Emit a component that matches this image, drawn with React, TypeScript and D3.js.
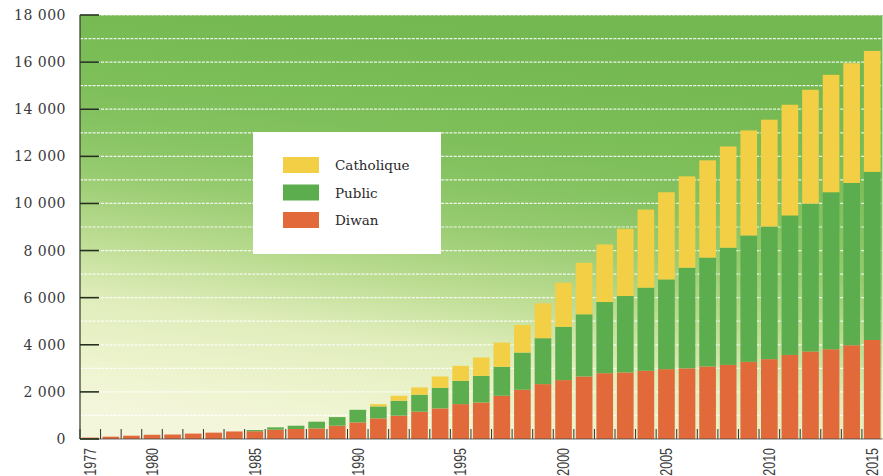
import React from "react";
import * as d3 from "d3";

const years = [
  1977, 1978, 1979, 1980, 1981, 1982, 1983, 1984, 1985, 1986, 1987, 1988, 1989,
  1990, 1991, 1992, 1993, 1994, 1995, 1996, 1997, 1998, 1999, 2000, 2001, 2002,
  2003, 2004, 2005, 2006, 2007, 2008, 2009, 2010, 2011, 2012, 2013, 2014, 2015,
];
const diwan = [
  60, 100, 140, 180, 190, 230, 270, 320, 330, 395, 425, 450, 565, 705, 875, 990,
  1160, 1300, 1480, 1550, 1835, 2090, 2330, 2500, 2655, 2795, 2825, 2895, 2965,
  3000, 3080, 3145, 3275, 3390, 3570, 3715, 3810, 3980, 4205,
];
const publicSchool = [
  0, 0, 0, 0, 0, 0, 0, 0, 50, 100, 140, 285, 365, 535, 510, 635, 720, 875, 990,
  1130, 1230, 1580, 1950, 2260, 2640, 3020, 3245, 3530, 3810, 4270, 4620, 4975,
  5365, 5630, 5920, 6280, 6665, 6890, 7135,
];
const catholique = [
  0, 0, 0, 0, 0, 0, 0, 0, 0, 0, 0, 0, 0, 0, 95, 210, 310, 480, 635, 780, 1030,
  1170, 1480, 1875, 2185, 2445, 2855, 3315, 3700, 3880, 4130, 4300, 4460, 4535,
  4700, 4830, 4985, 5085, 5135,
];
const seriesKeys = ["Diwan", "Public", "Catholique"];
const legendItems = ["Catholique", "Public", "Diwan"];
const yTicks = [0, 2000, 4000, 6000, 8000, 10000, 12000, 14000, 16000, 18000];
const yearLabels = [1977, 1980, 1985, 1990, 1995, 2000, 2005, 2010, 2015];

const colors: Record<string, string> = {
  Diwan: "#e26a3a",
  Public: "#5cad4d",
  Catholique: "#f2cf45",
};

const W = 883;
const H = 476;
const left = 80;
const right = 882.5;
const top = 15;
const bottom = 439;

export default function App() {
  const rows = years.map((y, i) => ({
    year: y,
    Diwan: diwan[i],
    Public: publicSchool[i],
    Catholique: catholique[i],
  }));
  const stack = d3.stack<any>().keys(seriesKeys);
  const layers = stack(rows);

  const x = d3
    .scaleBand<number>()
    .domain(years)
    .range([left, right])
    .paddingInner(0.19)
    .paddingOuter(0.095);
  const y = d3.scaleLinear().domain([0, 18000]).range([bottom, top]);
  const fmt = (v: number) =>
    v === 0 ? "0" : d3.format(",")(v).replace(",", " ");

  const gridVals = d3.range(1000, 18001, 1000);
  const step = x.step();
  const boundaries = years.map((yr) => (x(yr) as number) - (step - x.bandwidth()) / 2);

  return (
    <svg width={W} height={H} style={{ display: "block", position: "absolute", left: 0, top: 0 }}>
      <defs>
        <linearGradient id="bg" gradientUnits="userSpaceOnUse" x1={300} y1={bottom} x2={360} y2={top}>
          <stop offset="0" stopColor="#f4f6dc" />
          <stop offset="0.1" stopColor="#eef4cf" />
          <stop offset="0.26" stopColor="#e0edbb" />
          <stop offset="0.41" stopColor="#b9db8f" />
          <stop offset="0.55" stopColor="#97cb70" />
          <stop offset="0.66" stopColor="#86c362" />
          <stop offset="0.8" stopColor="#7bbd57" />
          <stop offset="1" stopColor="#74b851" />
        </linearGradient>
      </defs>
      <rect x={0} y={0} width={W} height={H} fill="#ffffff" />
      <rect x={left} y={top} width={right - left} height={bottom - top} fill="url(#bg)" />
      {gridVals.map((v) => (
        <line
          key={v}
          x1={left}
          x2={right}
          y1={y(v)}
          y2={y(v)}
          stroke="#ffffff"
          strokeOpacity={0.85}
          strokeWidth={1.2}
          strokeDasharray="3,1.2"
        />
      ))}
      {layers.map((layer) => (
        <g key={layer.key} fill={colors[layer.key]}>
          {layer.map((d, i) => {
            const h = y(d[0]) - y(d[1]);
            if (h <= 0) return null;
            return (
              <rect
                key={i}
                x={x(years[i])}
                y={y(d[1])}
                width={x.bandwidth()}
                height={h}
              />
            );
          })}
        </g>
      ))}
      <line x1={left} x2={right} y1={bottom} y2={bottom} stroke="#444" strokeWidth={0.8} />
      {boundaries.map((bx, i) => (
        <line key={i} x1={bx} x2={bx} y1={bottom - 10} y2={bottom} stroke="#333" strokeWidth={1} />
      ))}
      <line x1={left} x2={left} y1={top} y2={bottom} stroke="#2e3a22" strokeWidth={1.2} />
      {yTicks.map((v) => (
        <g key={v}>
          <line x1={left} x2={left + 19} y1={y(v)} y2={y(v)} stroke="#24301c" strokeWidth={1.6} />
          <text
            x={66}
            y={y(v) + 5}
            textAnchor="end"
            fontFamily="'DejaVu Serif', serif"
            fontSize={14}
            letterSpacing={0.5}
            fill="#3a3a3a"
          >
            {fmt(v)}
          </text>
        </g>
      ))}
      {yearLabels.map((yr) => {
        const cx = (x(yr) as number) + x.bandwidth() / 2;
        return (
          <text
            key={yr}
            transform={`translate(${cx},${448}) rotate(-90) scale(0.78,1)`}
            textAnchor="end"
            dy="0.36em"
            fontFamily="'Liberation Sans', Arial, sans-serif"
            fontSize={16}
            fill="#3a3a3a"
          >
            {yr}
          </text>
        );
      })}
      <rect x={253} y={132} width={188} height={122} fill="#ffffff" />
      {legendItems.map((k, i) => (
        <g key={k} transform={`translate(283,${157 + i * 27.5})`}>
          <rect x={0} y={0} width={36} height={16} fill={colors[k]} />
          <text
            x={52}
            y={13}
            fontFamily="'DejaVu Serif', serif"
            fontSize={13.5}
            fill="#2a2a2a"
          >
            {k}
          </text>
        </g>
      ))}
    </svg>
  );
}
